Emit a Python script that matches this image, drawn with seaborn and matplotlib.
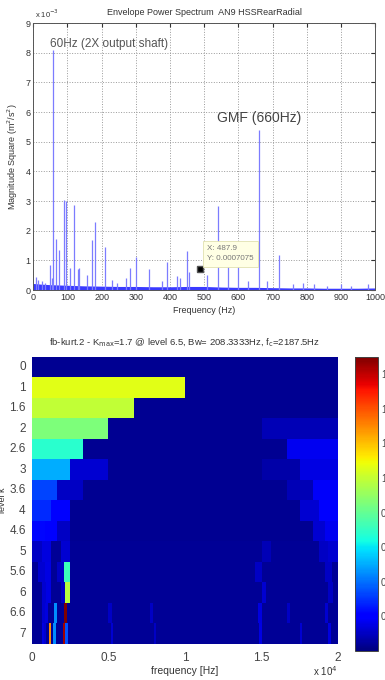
import numpy as np
import matplotlib
matplotlib.use("Agg")
import matplotlib.pyplot as plt
import seaborn as sns

# envelope power spectrum, magnitudes in units of 1e-3
floor_freq = [0, 20, 50, 100, 150, 200, 250, 300, 350, 400, 450, 500,
              550, 600, 650, 700, 750, 800, 850, 900, 950, 1000]
floor_amp = [0.22, 0.20, 0.18, 0.16, 0.14, 0.13, 0.12, 0.12, 0.11, 0.11, 0.12, 0.12,
             0.10, 0.09, 0.09, 0.08, 0.07, 0.07, 0.06, 0.06, 0.06, 0.07]
peak_freq = [8, 15, 25, 35, 48, 55, 58, 65, 75, 90, 95, 108, 119, 130, 135, 156,
             171, 180, 210, 229, 245, 271, 283, 300, 337, 376, 390, 420, 430, 450,
             455, 507, 539, 570, 600, 628, 660, 683, 718, 760, 790, 820, 860, 900,
             930, 980]
peak_amp = [0.45, 0.35, 0.30, 0.25, 0.85, 0.40, 8.1, 1.72, 1.35, 3.05, 3.0, 0.75,
            2.85, 0.70, 0.75, 0.50, 1.70, 2.30, 1.45, 0.35, 0.25, 0.40, 0.75, 1.10,
            0.70, 0.30, 0.95, 0.48, 0.40, 1.30, 0.62, 0.50, 2.82, 0.95, 0.85, 0.30,
            5.4, 0.30, 1.17, 0.20, 0.25, 0.20, 0.15, 0.20, 0.15, 0.20]
cursor_x = 487.9
cursor_y = 0.7075

# kurtogram
level_labels = ['0', '1', '1.6', '2', '2.6', '3', '3.6', '4', '4.6', '5',
                '5.6', '6', '6.6', '7']
n_bands = [1, 2, 3, 4, 6, 8, 12, 16, 24, 32, 48, 64, 96, 128]
row_floor = [0.03, 0.03, 0.03, 0.03, 0.03, 0.03, 0.03, 0.03, 0.03, 0.035,
             0.035, 0.035, 0.035, 0.035]
cell_level = [1, 2, 3, 3, 4, 4, 5, 5, 5, 5, 6, 6, 6, 6, 7, 7, 7, 7,
              8, 8, 8, 8, 8, 9, 9, 9, 9, 9, 9,
              10, 10, 10, 10, 10, 10,
              11, 11, 11, 11, 11, 11,
              12, 12, 12, 12, 12, 12, 12, 12, 12,
              13, 13, 13, 13, 13, 13, 13, 13, 13, 13, 13]
cell_band = [0, 0, 0, 3, 0, 5, 0, 1, 7, 6, 0, 1, 11, 10, 0, 1, 15, 14,
             0, 1, 23, 22, 2, 0, 1, 3, 24, 30, 31,
             1, 2, 4, 5, 35, 46,
             2, 3, 6, 7, 48, 62,
             3, 4, 7, 10, 24, 37, 71, 80, 92,
             4, 5, 7, 9, 13, 14, 33, 51, 95, 112, 124]
cell_value = [1.06, 0.99, 0.85, 0.08, 0.68, 0.17, 0.50, 0.12, 0.15, 0.06,
              0.33, 0.10, 0.18, 0.08, 0.28, 0.20, 0.20, 0.12,
              0.22, 0.20, 0.17, 0.12, 0.10, 0.10, 0.14, 0.12, 0.08, 0.10, 0.12,
              0.12, 0.15, 0.10, 0.72, 0.10, 0.10,
              0.12, 0.15, 0.10, 0.97, 0.12, 0.10,
              0.12, 0.14, 0.45, 1.70, 0.10, 0.10, 0.14, 0.10, 0.12,
              0.15, 0.12, 1.30, 0.45, 1.65, 0.35, 0.12, 0.10, 0.15, 0.12, 0.14]
cbar_ticks = [0.2, 0.4, 0.6, 0.8, 1.0, 1.2, 1.4, 1.6]

sns.set_style("white")
plt.rcParams['font.family'] = ['Liberation Sans', 'DejaVu Sans']
txt = '#333333'

fig = plt.figure(figsize=(3.85, 6.8), dpi=100)

# ---- top: envelope spectrum ----
ax1 = fig.add_axes([0.0865, 0.5735, 0.888, 0.3926])
ax1.fill_between(floor_freq, 0, floor_amp, color='#3a3aff', lw=0)
ax1.vlines(peak_freq, 0, peak_amp, color='#7c7cff', lw=0.9)
ax1.plot([cursor_x], [cursor_y], 's', color='black', ms=4.5, mec='#555555')
ax1.set_xlim(0, 1000)
ax1.set_ylim(0, 9)
ax1.set_xticks(range(0, 1001, 100))
ax1.set_yticks(range(0, 10))
ax1.grid(True, linestyle=':', color='#9a9a9a', lw=0.7)
ax1.tick_params(direction='in', length=3, labelsize=6.5, pad=2, colors=txt,
                top=True, right=True)
for s in ax1.spines.values():
    s.set_color('#555555')
    s.set_linewidth(0.7)
ax1.set_title('Envelope Power Spectrum  AN9 HSSRearRadial', fontsize=6.5,
              color=txt, pad=6)
ax1.set_xlabel('Frequency (Hz)', fontsize=6.5, color=txt, labelpad=3)
ax1.set_ylabel('Magnitude Square (m$^2$/s$^2$)', fontsize=6.5, color=txt, labelpad=4)
ax1.text(0.005, 1.012, 'x 10$^{-3}$', transform=ax1.transAxes, fontsize=5.5,
         color=txt, va='bottom')
ax1.text(49, 8.3, '60Hz (2X output shaft)', fontsize=8.5, color='#555555', va='center')
ax1.text(537, 5.8, 'GMF (660Hz)', fontsize=10, color='#444444', va='center')
ax1.text(508, 1.22, 'X: 487.9\nY: 0.0007075', fontsize=5.8, color='#777777',
         va='center', linespacing=1.6,
         bbox=dict(boxstyle='square,pad=0.55', fc='#ffffe4', ec='#e0e0b0', lw=0.6))

# ---- bottom: kurtogram ----
rows = [np.full(nb, row_floor[i]) for i, nb in enumerate(n_bands)]
for lv, b, v in zip(cell_level, cell_band, cell_value):
    rows[lv][b] = v
ncol = 384
kurt = np.vstack([np.repeat(r, ncol // nb) for r, nb in zip(rows, n_bands)])

ax2 = fig.add_axes([0.083, 0.053, 0.795, 0.422])
cax = fig.add_axes([0.922, 0.043, 0.06, 0.432])
sns.heatmap(kurt, ax=ax2, cbar_ax=cax, cmap='jet', vmin=0, vmax=1.7,
            xticklabels=False, yticklabels=level_labels, rasterized=True)
ax2.set_yticklabels(level_labels, rotation=0)
ax2.set_xticks([0, 96, 192, 288, 384])
ax2.set_xticklabels(['0', '0.5', '1', '1.5', '2'])
ax2.tick_params(axis='both', direction='out', length=2.5, width=0.6,
                labelsize=8.5, colors='#444444', pad=3)
ax2.tick_params(axis='y', pad=2)
ax2.set_xlabel('frequency [Hz]', fontsize=7.5, color=txt, labelpad=2)
ax2.set_ylabel('level k', fontsize=6.5, color=txt)
ax2.yaxis.set_label_coords(-0.082, 0.5)
ax2.set_title(r'fb-kurt.2 - K$_{\mathrm{max}}$=1.7 @ level 6.5, Bw= 208.3333Hz, '
              r'f$_{\mathrm{c}}$=2187.5Hz', fontsize=6.8, color=txt, pad=9)
fig.text(0.812, 0.006, 'x 10$^4$', fontsize=7, color=txt)

cbar = ax2.collections[0].colorbar
cbar.set_ticks(cbar_ticks)
cbar.set_ticklabels(['%g' % t for t in cbar_ticks])
cax.tick_params(direction='in', length=3, width=0.6, labelsize=7,
                colors='#444444', left=True, right=True, pad=2)
cbar.outline.set_linewidth(0.7)
cbar.outline.set_edgecolor('#444444')

fig.savefig('out.png', dpi=100)
